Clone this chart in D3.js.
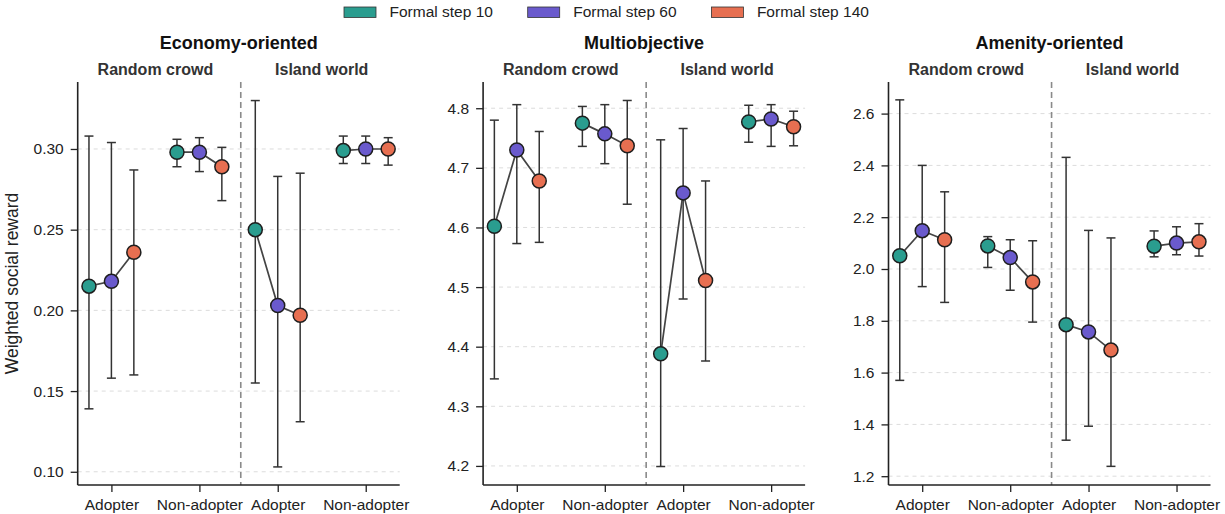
<!DOCTYPE html>
<html>
<head>
<meta charset="utf-8">
<script src="https://cdn.jsdelivr.net/npm/d3@7"></script>
<style>
  html, body { margin: 0; padding: 0; background: #fff; }
  svg { display: block; font-family: "Liberation Sans", Arial, sans-serif; }
</style>
</head>
<body>
<svg id="chart" width="1225" height="514"></svg>
<script>
// ---- data -------------------------------------------------------------
const panelTitles = ["Economy-oriented", "Multiobjective", "Amenity-oriented"];
const worlds = ["Random crowd", "Island world"];
const groupLabels = ["Adopter", "Non-adopter", "Adopter", "Non-adopter"];
const steps = ["Formal step 10", "Formal step 60", "Formal step 140"];
const stepColors = ["#2a9d8f", "#6a5acd", "#e76f51"];

// rows: Random/Adopter, Random/Non-adopter, Island/Adopter, Island/Non-adopter
// columns: formal step 10, 60, 140
const econMean = [[0.215, 0.218, 0.236], [0.298, 0.298, 0.289], [0.250, 0.203, 0.197], [0.299, 0.300, 0.300]];
const econLo   = [[0.139, 0.158, 0.160], [0.289, 0.286, 0.268], [0.155, 0.103, 0.131], [0.291, 0.291, 0.290]];
const econHi   = [[0.308, 0.304, 0.287], [0.306, 0.307, 0.301], [0.330, 0.283, 0.285], [0.308, 0.308, 0.307]];

const multiMean = [[4.602, 4.730, 4.678], [4.775, 4.757, 4.737], [4.388, 4.658, 4.511], [4.777, 4.782, 4.769]];
const multiLo   = [[4.346, 4.573, 4.575], [4.736, 4.707, 4.639], [4.199, 4.480, 4.376], [4.743, 4.736, 4.737]];
const multiHi   = [[4.780, 4.806, 4.761], [4.803, 4.806, 4.813], [4.747, 4.766, 4.678], [4.805, 4.806, 4.795]];

const amenMean = [[2.051, 2.148, 2.113], [2.089, 2.044, 1.950], [1.785, 1.757, 1.687], [2.088, 2.100, 2.105]];
const amenLo   = [[1.570, 1.932, 1.871], [2.006, 1.918, 1.795], [1.339, 1.393, 1.238], [2.047, 2.055, 2.050]];
const amenHi   = [[2.653, 2.400, 2.298], [2.125, 2.113, 2.109], [2.431, 2.149, 2.120], [2.147, 2.163, 2.175]];

const econTicks  = [0.10, 0.15, 0.20, 0.25, 0.30];
const multiTicks = [4.2, 4.3, 4.4, 4.5, 4.6, 4.7, 4.8];
const amenTicks  = [1.2, 1.4, 1.6, 1.8, 2.0, 2.2, 2.4, 2.6];

const yLabel = "Weighted social reward";

// ---- layout ----------------------------------------------------------
const panels = [
  { title: panelTitles[0], mean: econMean,  lo: econLo,  hi: econHi,  ticks: econTicks,  fmt: ".2f", ydom: [0.0918, 0.3415] },
  { title: panelTitles[1], mean: multiMean, lo: multiLo, hi: multiHi, ticks: multiTicks, fmt: ".1f", ydom: [4.168, 4.844] },
  { title: panelTitles[2], mean: amenMean,  lo: amenLo,  hi: amenHi,  ticks: amenTicks,  fmt: ".1f", ydom: [1.166, 2.722] }
];

const plotTop = 82, plotBottom = 485, plotW = 322;
const panelLeft = i => 77.7 + i * 405.4;
const groupPos = [0, 1, 1.89, 2.89];     // category centres in axis units
const stepOffset = [-0.255, 0, 0.255];    // dodge within a category
const sepPos = 1.47;                      // divider between the two worlds
const ink = "#222";

const svg = d3.select("#chart");

panels.forEach((p, i) => {
  const g = svg.append("g").attr("transform", `translate(${panelLeft(i)},0)`);
  const x = d3.scaleLinear().domain([-0.383, 3.276]).range([0, plotW]);
  const y = d3.scaleLinear().domain(p.ydom).range([plotBottom, plotTop]);

  // horizontal dashed grid
  g.append("g").selectAll("line").data(p.ticks).join("line")
    .attr("x1", 0).attr("x2", plotW)
    .attr("y1", d => y(d)).attr("y2", d => y(d))
    .attr("stroke", "#dcdcdc").attr("stroke-width", 1)
    .attr("stroke-dasharray", "4,4");

  // divider between worlds
  g.append("line")
    .attr("x1", x(sepPos)).attr("x2", x(sepPos))
    .attr("y1", plotTop).attr("y2", plotBottom)
    .attr("stroke", "#8a8a8a").attr("stroke-width", 1.6)
    .attr("stroke-dasharray", "6,4");

  // y axis
  const yAxis = g.append("g")
    .call(d3.axisLeft(y).tickValues(p.ticks).tickFormat(d3.format(p.fmt)).tickSize(7).tickPadding(7));
  yAxis.select(".domain").attr("d", `M0,${plotTop}V${plotBottom}`).attr("stroke", ink).attr("stroke-width", 1.6);
  yAxis.selectAll(".tick line").attr("stroke", ink).attr("stroke-width", 1.3);
  yAxis.selectAll(".tick text").attr("fill", ink).style("font-size", "15.5px");

  // x axis
  const xAxis = g.append("g").attr("transform", `translate(0,${plotBottom})`)
    .call(d3.axisBottom(x).tickValues(groupPos).tickFormat((d, k) => groupLabels[k]).tickSize(7).tickPadding(7));
  xAxis.select(".domain").attr("d", `M0,0H${plotW}`).attr("stroke", ink).attr("stroke-width", 1.6);
  xAxis.selectAll(".tick line").attr("stroke", ink).attr("stroke-width", 1.3);
  xAxis.selectAll(".tick text").attr("fill", ink).style("font-size", "15.5px");

  // panel title
  g.append("text")
    .attr("x", plotW / 2).attr("y", 49)
    .attr("text-anchor", "middle")
    .style("font-size", "18px").style("font-weight", "bold").attr("fill", "#111")
    .text(p.title);

  // world subtitles
  worlds.forEach((w, k) => {
    g.append("text")
      .attr("x", x((groupPos[2 * k] + groupPos[2 * k + 1]) / 2)).attr("y", 75)
      .attr("text-anchor", "middle")
      .style("font-size", "16px").style("font-weight", "bold").attr("fill", "#333")
      .text(w);
  });

  // one record per marker
  const recs = [];
  p.mean.forEach((row, gi) => row.forEach((m, si) => {
    recs.push({ gi, si, m, lo: p.lo[gi][si], hi: p.hi[gi][si], xv: groupPos[gi] + stepOffset[si] });
  }));

  // error bars
  const eb = g.append("g").selectAll("g").data(recs).join("g")
    .attr("stroke", "#333").attr("stroke-width", 1.5);
  eb.append("line")
    .attr("x1", d => x(d.xv)).attr("x2", d => x(d.xv))
    .attr("y1", d => y(d.lo)).attr("y2", d => y(d.hi));
  eb.append("line")
    .attr("x1", d => x(d.xv) - 4.5).attr("x2", d => x(d.xv) + 4.5)
    .attr("y1", d => y(d.hi)).attr("y2", d => y(d.hi));
  eb.append("line")
    .attr("x1", d => x(d.xv) - 4.5).attr("x2", d => x(d.xv) + 4.5)
    .attr("y1", d => y(d.lo)).attr("y2", d => y(d.lo));

  // connecting lines across formal steps
  const line = d3.line().x(d => x(d.xv)).y(d => y(d.m));
  g.append("g").selectAll("path").data(d3.groups(recs, d => d.gi).map(e => e[1])).join("path")
    .attr("d", line).attr("fill", "none")
    .attr("stroke", "#444").attr("stroke-width", 1.7);

  // markers
  g.append("g").selectAll("circle").data(recs).join("circle")
    .attr("cx", d => x(d.xv)).attr("cy", d => y(d.m)).attr("r", 7)
    .attr("fill", d => stepColors[d.si])
    .attr("stroke", "#1e1e1e").attr("stroke-width", 1.5);
});

// y-axis label
svg.append("text")
  .attr("transform", `translate(18,${(plotTop + plotBottom) / 2}) rotate(-90)`)
  .attr("text-anchor", "middle")
  .style("font-size", "17.5px").attr("fill", ink)
  .text(yLabel);

// legend
const legendX = [344, 527.7, 711.4];
const lg = svg.append("g").selectAll("g").data(steps).join("g")
  .attr("transform", (d, k) => `translate(${legendX[k]},0)`);
lg.append("rect")
  .attr("x", 0).attr("y", 7).attr("width", 32).attr("height", 10.5)
  .attr("fill", (d, k) => stepColors[k])
  .attr("stroke", "#333").attr("stroke-width", 0.8);
lg.append("text")
  .attr("x", 45.5).attr("y", 17)
  .style("font-size", "15.5px").attr("fill", ink)
  .text(d => d);
</script>
</body>
</html>
